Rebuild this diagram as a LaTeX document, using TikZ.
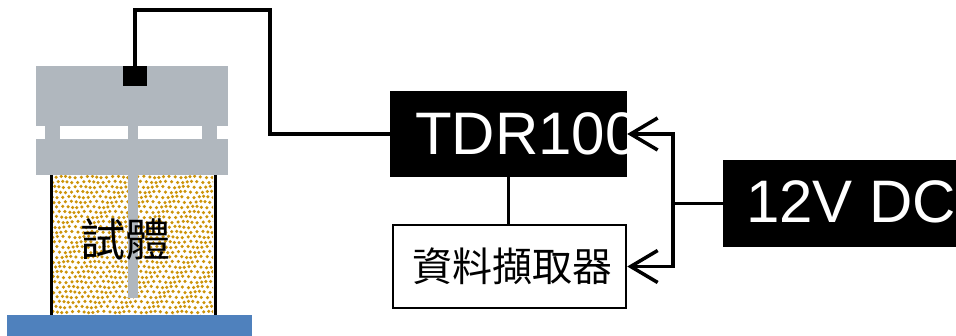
\documentclass[tikz,border=0pt]{standalone}
\usepackage{fontspec}
\setmainfont{Liberation Sans}
\newfontfamily\cjk{Noto Sans CJK TC}
\usetikzlibrary{arrows.meta}
\definecolor{plategray}{RGB}{176,183,190}
\definecolor{basebl}{RGB}{79,129,189}
\definecolor{sandgold}{RGB}{205,148,10}
\tikzset{
  wire/.style={line width=3.5pt, line cap=rect},
  feed/.style={line width=3.5pt, -{Straight Barb[length=27pt,width=32pt,line width=3.5pt]}},
  blackbox/.style={fill=black, draw=none, inner sep=0pt},
  whitebox/.style={fill=white, draw=black, line width=2.5pt, inner sep=0pt},
  bigtext/.style={text=white, inner sep=0pt, font=\fontsize{60}{60}\selectfont},
}
\begin{document}
\begin{tikzpicture}[x=1pt, y=-1pt]
\useasboundingbox (0,0) rectangle (956,336);

% --- test cell: base, sample, cap plates ---
\fill[basebl] (7,315) rectangle (252,340);
\begin{scope}
  \clip (53,175) rectangle (213,315);
  \fill[white] (53,175) rectangle (213,315);
  \foreach \r in {0,...,28} {
    \foreach \c in {-1,...,37} {
      \pgfmathsetmacro{\dx}{50 + \c*5.2 + mod(\r,2)*2.6 - 0.6*\r + 1.0*sin(37*\r+61*\c)}
      \pgfmathsetmacro{\dy}{177 + \r*5 + 0.7*cos(53*\r+71*\c)}
      \fill[sandgold] (\dx,\dy) circle (1.75pt);
    }
  }
\end{scope}
\draw[line width=3pt] (51.5,175) -- (51.5,315);
\draw[line width=3pt] (215,175) -- (215,315);

\fill[plategray] (36,66) rectangle (228,126);
\fill[plategray] (45,126) rectangle (217,139);
\fill[white] (60,126) rectangle (128,139);
\fill[white] (138,126) rectangle (202,139);
\fill[plategray] (36,139) rectangle (228,175);
\fill[plategray] (128,175) rectangle (138,298);

\node[font=\cjk\fontsize{45}{45}\selectfont, inner sep=0pt, anchor=base] (sample) at (125,257) {試體};

\node[blackbox, minimum width=24pt, minimum height=20pt] (sensor) at (135,76) {};

% --- instruments ---
\node[blackbox, minimum width=237pt, minimum height=86pt] (tdr) at (508.5,134) {};
\begin{scope}
  \clip (tdr.south west) rectangle (tdr.north east);
  \node[bigtext, anchor=base west] (tdrlabel) at (415,155) {TDR100};
\end{scope}

\node[whitebox, minimum width=233pt, minimum height=83pt] (logger) at (509.5,266.5) {};
\node[font=\cjk\fontsize{40}{40}\selectfont, inner sep=0pt, anchor=base west] (loggerlabel) at (412,282) {資料擷取器};

\node[blackbox, minimum width=240pt, minimum height=87pt] (dc) at (843,203.5) {};
\node[bigtext, anchor=base west] (dclabel) at (746,223) {12V DC};

% --- connections ---
\coordinate (bend) at (270,10);
\coordinate (split) at (673,203.5);
\draw[wire] (sensor.north) |- (bend) |- (tdr.west);
\draw[wire] (tdr.south) -- (logger.north -| tdr.south);
\draw[wire] (dc.west) -- (split);
\draw[feed] (split) |- (tdr.east);
\draw[feed] (split) |- (logger.east);
\end{tikzpicture}
\end{document}
